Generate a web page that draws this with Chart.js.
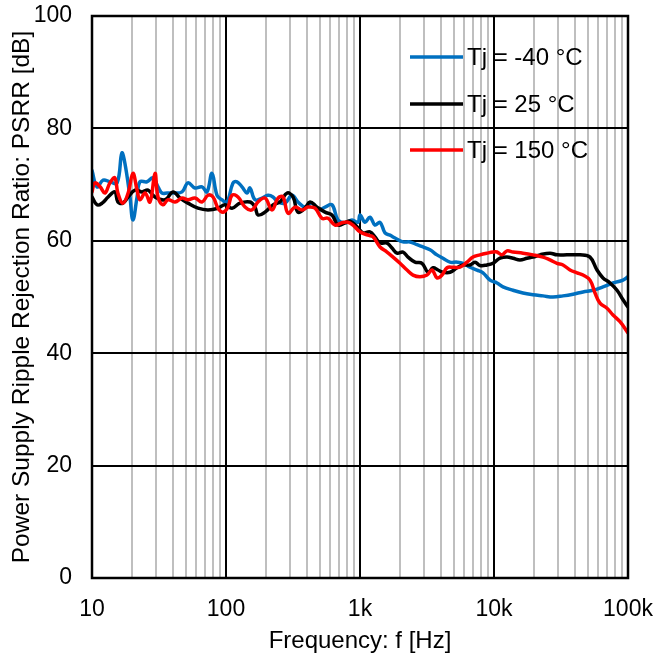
<!DOCTYPE html>
<html>
<head>
<meta charset="utf-8">
<style>
  html, body { margin: 0; padding: 0; background: #ffffff; }
  #wrap { width: 672px; height: 659px; }
</style>
<script src="https://cdn.jsdelivr.net/npm/chart.js@4.4.0/dist/chart.umd.min.js"></script>
</head>
<body>
<div id="wrap"><canvas id="c" width="672" height="659"></canvas></div>
<script>
// ---- Data ----
const seriesLabels = ['Tj = -40 °C', 'Tj = 25 °C', 'Tj = 150 °C'];
const seriesColors = ['#0070C0', '#000000', '#FF0000'];

const freqM40 = [10, 10.9, 12.1, 13.6, 15.4, 16.7, 17.6, 19.2, 20.2, 21.7, 22.8, 25.7, 28.5, 31.1, 33.3, 36.3, 40.2, 47, 52, 58.7, 66.2, 72.1, 78.6, 85.7, 93.3, 101.7, 112.8, 120.8, 131.6, 143.5, 151.1, 164.6, 185.6, 205.8, 224.2, 244.4, 275.6, 310.8, 344.6, 388.8, 438.4, 486, 548.2, 618.1, 685.2, 773, 871.6, 966.3, 1000, 1090, 1187, 1294, 1411, 1537, 1675, 1825, 2094, 2362, 2664, 2953, 3330, 3755, 4163, 4695, 5296, 5870, 6621, 7468, 8278, 9336, 10530, 11675, 13867, 16457, 19543, 23209, 27561, 32730, 38876, 46174, 54812, 65080, 77296, 91780, 100000];
const psrrM40 = [72.5, 69.6, 70.8, 70.5, 70.3, 75.6, 73.8, 67.8, 63.7, 67.8, 70.5, 70.5, 71.2, 69.6, 68.5, 68.5, 68.5, 68.7, 70.3, 69.4, 69.6, 68.7, 72, 68.1, 67.3, 66.9, 70.3, 70.5, 69.6, 68.5, 69.4, 67.3, 67.6, 68.1, 67.8, 66.9, 66.7, 68.1, 66.9, 66, 66.7, 65.5, 66, 66.4, 63.7, 63.2, 63.7, 63.3, 64.6, 63.3, 64.2, 62.8, 63.3, 61.4, 61, 60.5, 59.8, 59.8, 59.3, 58.9, 58.4, 57.5, 56.9, 56.2, 56.2, 56, 55.3, 54.8, 54.3, 53, 52.5, 51.8, 51.2, 50.7, 50.4, 50.2, 50, 50.2, 50.5, 50.9, 51.2, 51.8, 52.5, 53, 53.6];

const freq25 = [10, 10.9, 11.9, 13.2, 14.8, 15.6, 17, 18.6, 20.9, 23.6, 26.2, 29.5, 35.1, 40.2, 45.4, 52, 61.8, 73.4, 87.2, 98.3, 110.9, 127.2, 151.1, 164.6, 173.3, 195.4, 224.2, 252.9, 285.3, 316.2, 344.6, 388.8, 423.6, 477.7, 548.2, 618.1, 685.2, 773, 842, 950, 1053, 1187, 1294, 1411, 1590, 1733, 1889, 2094, 2282, 2574, 2903, 3218, 3506, 3820, 4163, 4695, 5296, 5870, 6621, 7215, 7863, 8868, 9829, 11087, 12503, 13867, 15631, 17633, 19543, 22039, 26176, 29523, 35063, 43853, 52058, 58718, 65080, 73407, 82796, 91780, 100000];
const psrr25 = [67.8, 66.4, 66.7, 67.8, 68.7, 66.9, 66.7, 67.8, 69, 68.7, 69, 67.8, 67.3, 68.7, 67.6, 66.7, 65.8, 65.5, 65.8, 66.4, 65.8, 66.7, 66.9, 66, 64.6, 65.1, 66.4, 66.9, 68.5, 67.8, 65.1, 65.8, 66.9, 66, 65.1, 64.6, 62.8, 63.2, 63.5, 62.5, 61.4, 61.6, 60.7, 59.6, 59.6, 58.7, 57.8, 58, 57.1, 56.2, 56, 54.4, 55.2, 54.8, 54.4, 54.4, 55.2, 55.7, 55.7, 56.2, 55.6, 55.7, 56, 56.9, 57.1, 56.9, 56.6, 56.9, 57.1, 57.5, 57.8, 57.5, 57.5, 57.5, 57.1, 54.8, 53.4, 52.5, 51.2, 49.5, 48.2];

const freq150 = [10, 10.5, 11.5, 12.5, 13.6, 14.8, 15.6, 17, 18.6, 20.2, 21.7, 22.8, 24.9, 27.1, 29.5, 31.1, 33.9, 36.9, 41.6, 47, 52, 58.7, 66.2, 73.4, 80, 87.2, 95, 103.5, 110.9, 122.9, 138.7, 156.3, 173.3, 195.4, 220.4, 244.4, 266.4, 290.2, 327.3, 369.3, 409.3, 461.6, 520.6, 577.1, 650.9, 734, 813.6, 886.8, 1000, 1147, 1250, 1411, 1590, 1764, 1989, 2243, 2486, 2804, 3162, 3446, 3755, 4091, 4460, 4943, 5576, 6288, 6970, 7863, 8868, 9829, 10530, 11472, 12503, 13867, 16457, 19543, 23209, 26176, 29523, 32730, 36920, 41646, 46174, 52058, 56731, 61803, 69713, 77296, 87178, 100000];
const psrr150 = [68.7, 70.3, 69.6, 68.5, 70.3, 71.2, 68.5, 66.7, 68.5, 72, 69, 67.3, 68.5, 66.9, 72, 67.8, 66.4, 67.3, 66.9, 67.6, 67.3, 67.6, 66.9, 68.1, 67.8, 65.8, 65.1, 66, 68.1, 67.8, 66, 65.5, 66.9, 67.6, 65.5, 67.6, 67.8, 64.9, 66, 65.5, 66, 65.8, 64, 64, 62.8, 63.2, 63.3, 62.8, 61.6, 61, 60.7, 58.9, 58, 57.1, 56, 54.8, 53.9, 53.6, 53.9, 54.8, 53.4, 53.9, 55.2, 55.3, 55.3, 56.2, 57.1, 57.5, 57.8, 58, 58, 57.5, 58.2, 58, 57.8, 57.5, 57.1, 56.6, 56, 55.7, 54.8, 54.3, 53.9, 53, 50.7, 48.9, 48, 46.8, 45.6, 43.6];

const xTickValues = [10, 100, 1000, 10000, 100000];
const xTickLabels = ['10', '100', '1k', '10k', '100k'];
const yTickValues = [0, 20, 40, 60, 80, 100];

const xTitle = 'Frequency: f [Hz]';
const yTitle = 'Power Supply Ripple Rejection Ratio: PSRR [dB]';

// ---- helpers ----
function pts(fx, fy) { return fx.map((f, i) => ({ x: f, y: fy[i] })); }
const FONT = '"Liberation Sans", Arial, sans-serif';

function isMajor(v) {
  return xTickValues.some(m => Math.abs(v - m) < 1e-6 * m);
}

const legendPlugin = {
  id: 'insideLegend',
  afterDraw(chart) {
    const ctx = chart.ctx;
    const a = chart.chartArea;
    const x0 = a.left + 318, x1 = a.left + 371, tx = a.left + 375;
    const rows = [a.top + 41, a.top + 88, a.top + 134];
    ctx.save();
    ctx.font = '24px ' + FONT;
    ctx.textBaseline = 'middle';
    ctx.textAlign = 'left';
    seriesLabels.forEach((lab, i) => {
      ctx.strokeStyle = seriesColors[i];
      ctx.lineWidth = 3.5;
      ctx.beginPath();
      ctx.moveTo(x0, rows[i]);
      ctx.lineTo(x1, rows[i]);
      ctx.stroke();
      ctx.fillStyle = '#000';
      ctx.fillText(lab, tx, rows[i] + 1);
    });
    ctx.restore();
  }
};

const borderPlugin = {
  id: 'frame',
  afterDatasetsDraw(chart) {
    const ctx = chart.ctx, a = chart.chartArea;
    ctx.save();
    ctx.strokeStyle = '#000';
    ctx.lineWidth = 2.5;
    ctx.strokeRect(a.left, a.top, a.right - a.left, a.bottom - a.top);
    ctx.restore();
  }
};

const chart = new Chart(document.getElementById('c'), {
  type: 'line',
  data: {
    datasets: [
      { label: seriesLabels[0], data: pts(freqM40, psrrM40), borderColor: seriesColors[0], order: 2 },
      { label: seriesLabels[1], data: pts(freq25, psrr25), borderColor: seriesColors[1], order: 1 },
      { label: seriesLabels[2], data: pts(freq150, psrr150), borderColor: seriesColors[2], order: 0 }
    ].map(d => Object.assign(d, { borderWidth: 3.5, pointRadius: 0, tension: 0.4, fill: false, borderJoinStyle: 'round', borderCapStyle: 'round' }))
  },
  options: {
    responsive: false,
    animation: false,
    devicePixelRatio: 1,
    layout: { padding: { top: 16, right: 44, left: 0, bottom: 0 } },
    plugins: { legend: { display: false }, tooltip: { enabled: false } },
    scales: {
      x: {
        type: 'logarithmic',
        min: 10, max: 100000,
        afterBuildTicks(scale) {
          const t = [];
          for (let e = 1; e < 5; e++) {
            for (let s = 1; s < 10; s++) t.push({ value: s * Math.pow(10, e) });
          }
          t.push({ value: 100000 });
          scale.ticks = t;
        },
        afterFit(scale) { scale.height = 81; scale.paddingLeft = 0; scale.paddingRight = 0; },
        ticks: {
          autoSkip: false, maxRotation: 0, minRotation: 0,
          padding: 18, color: '#000',
          font: { family: FONT, size: 23 },
          callback(v) {
            const i = xTickValues.findIndex(m => Math.abs(v - m) < 1e-6 * m);
            return i >= 0 ? xTickLabels[i] : '';
          }
        },
        grid: {
          drawTicks: false,
          color: c => (c.tick && isMajor(c.tick.value)) ? '#000000' : '#bfbfbf',
          lineWidth: 2
        },
        border: { display: false },
        title: { display: true, text: xTitle, color: '#000', font: { family: FONT, size: 24 }, padding: { top: 0, bottom: 3 } }
      },
      y: {
        min: 0, max: 100,
        afterBuildTicks(scale) { scale.ticks = yTickValues.map(v => ({ value: v })); },
        afterFit(scale) { scale.width = 92; scale.paddingTop = 0; scale.paddingBottom = 0; },
        ticks: { padding: 20, color: '#000', font: { family: FONT, size: 23 } },
        grid: { drawTicks: false, color: '#000000', lineWidth: 2 },
        border: { display: false },
        title: { display: true, text: yTitle, color: '#000', font: { family: FONT, size: 24.5 }, padding: { top: 8, bottom: 0 } }
      }
    }
  },
  plugins: [legendPlugin, borderPlugin]
});
</script>
</body>
</html>
